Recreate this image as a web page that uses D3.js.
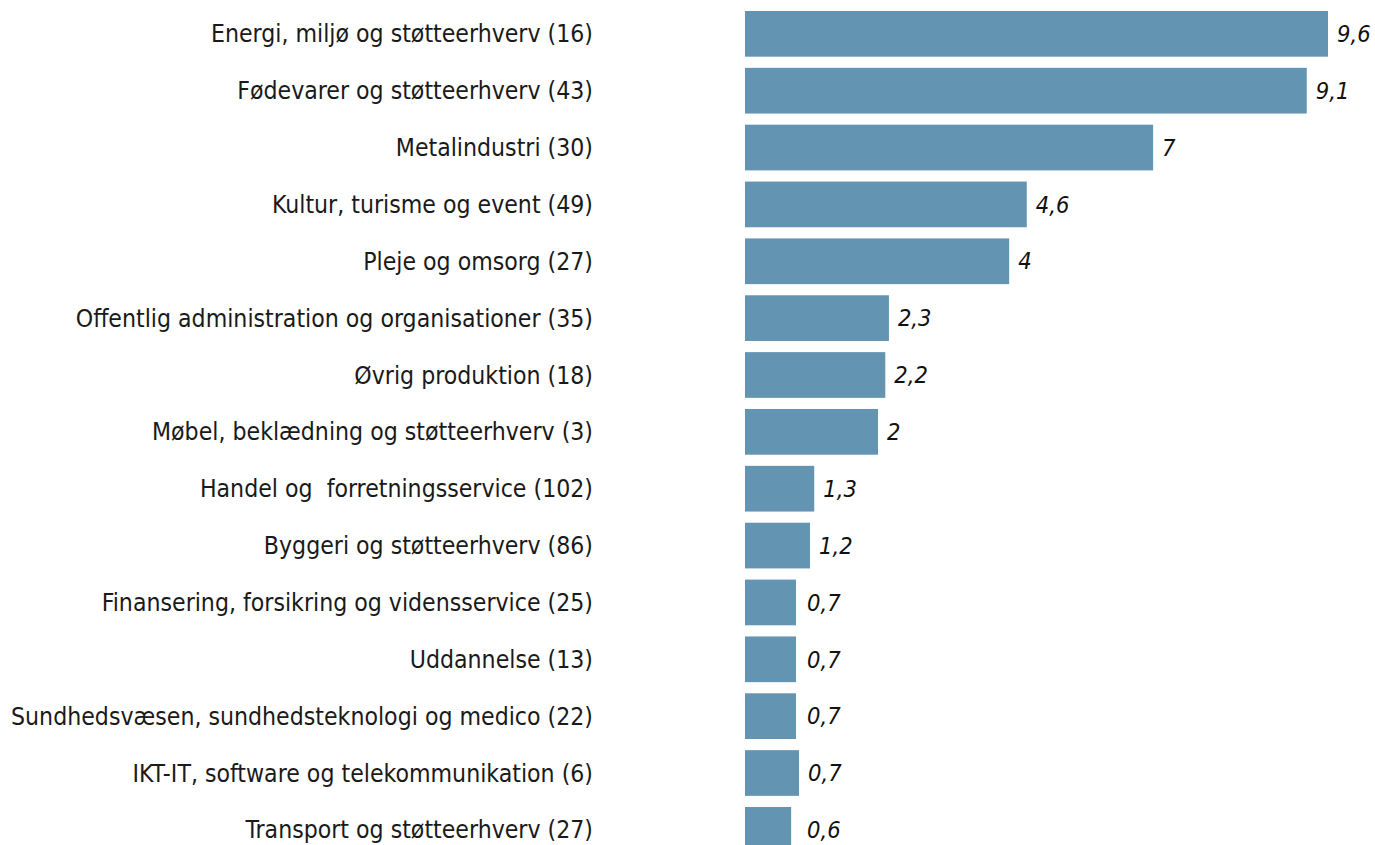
<!DOCTYPE html>
<html>
<head>
<meta charset="utf-8">
<script src="https://cdn.jsdelivr.net/npm/d3@7"></script>
<style>
  html, body { margin: 0; padding: 0; background: #fff; }
  svg { display: block; }
</style>
</head>
<body>
<svg id="chart" width="1375" height="845"></svg>
<script>
const categories = [
  "Energi, miljø og støtteerhverv (16)",
  "Fødevarer og støtteerhverv (43)",
  "Metalindustri (30)",
  "Kultur, turisme og event (49)",
  "Pleje og omsorg (27)",
  "Offentlig administration og organisationer (35)",
  "Øvrig produktion (18)",
  "Møbel, beklædning og støtteerhverv (3)",
  "Handel og  forretningsservice (102)",
  "Byggeri og støtteerhverv (86)",
  "Finansering, forsikring og vidensservice (25)",
  "Uddannelse (13)",
  "Sundhedsvæsen, sundhedsteknologi og medico (22)",
  "IKT-IT, software og telekommunikation (6)",
  "Transport og støtteerhverv (27)"
];
// bar lengths
const values = [9.6, 9.25, 6.72, 4.64, 4.35, 2.37, 2.31, 2.19, 1.14, 1.07, 0.84, 0.84, 0.84, 0.89, 0.76];
// value labels as printed
const valueLabels = ["9,6", "9,1", "7", "4,6", "4", "2,3", "2,2", "2", "1,3", "1,2", "0,7", "0,7", "0,7", "0,7", "0,6"];

const svg = d3.select("#chart");
const x = d3.scaleLinear().domain([0, 9.6]).range([745, 1328]);
const y = d3.scaleBand().domain(categories).range([5.4, 858.3]).paddingInner(0.196).paddingOuter(0.098);

const fontCat = "'DejaVu Sans Condensed', 'DejaVu Sans', sans-serif";

svg.selectAll("rect.bar")
  .data(categories)
  .join("rect")
  .attr("class", "bar")
  .attr("x", x(0))
  .attr("y", d => y(d))
  .attr("width", (d, i) => x(values[i]) - x(0))
  .attr("height", y.bandwidth())
  .attr("fill", "#6395b3");

svg.selectAll("text.cat")
  .data(categories)
  .join("text")
  .attr("class", "cat")
  .attr("x", 593)
  .attr("y", d => y(d) + y.bandwidth() / 2)
  .attr("dy", "0.35em")
  .attr("text-anchor", "end")
  .style("font-family", fontCat)
  .style("font-stretch", "condensed")
  .style("font-size", "24.6px")
  .style("white-space", "pre")
  .attr("fill", "#1a1a1a")
  .text(d => d);

svg.selectAll("text.val")
  .data(categories)
  .join("text")
  .attr("class", "val")
  .attr("x", (d, i) => Math.max(x(values[i]) + 9, 807))
  .attr("y", d => y(d) + y.bandwidth() / 2)
  .attr("dy", "0.35em")
  .attr("text-anchor", "start")
  .style("font-family", fontCat)
  .style("font-stretch", "condensed")
  .style("font-style", "italic")
  .style("font-size", "23.5px")
  .attr("fill", "#111")
  .text((d, i) => valueLabels[i]);
</script>
</body>
</html>
